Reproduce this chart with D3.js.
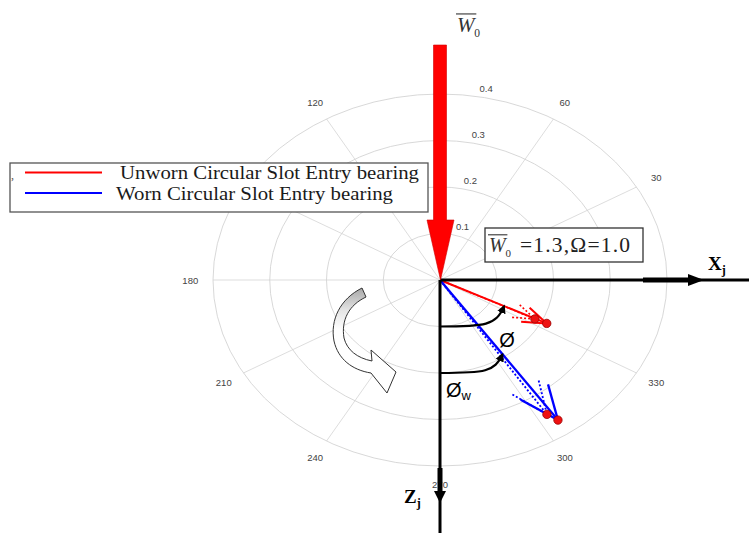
<!DOCTYPE html>
<html>
<head>
<meta charset="utf-8">
<script src="https://cdn.jsdelivr.net/npm/d3@7"></script>
<style>
  body { margin: 0; background: #fff; }
  svg { display: block; }
</style>
</head>
<body>
<svg id="chart" width="749" height="533"></svg>
<script>
// Polar grid ticks
const radialTicks = [0.1, 0.2, 0.3, 0.4];
const spokeAngles = [0, 30, 60, 90, 120, 150];
const angleLabels = [30, 60, 90, 120, 180, 210, 240, 270, 300, 330];

// Legend entries
const seriesNames = ["Unworn Circular Slot Entry bearing", "Worn Circular Slot Entry bearing"];
const seriesColors = ["#ff0000", "#0000ff"];
const legendTextWidth = [299, 277];

// Journal locus vectors: angle (deg) and non-dimensional magnitude
const unwornAngle = [333.6, 333.4];
const unwornMagnitude = [0.210, 0.187];
const wornAngle = [304.6, 303.1];
const wornMagnitude = [0.366, 0.345];
const vectorDash = [null, "2,2"];

// Operating condition
const loadValue = "1.3";
const speedValue = "1.0";

const svg = d3.select("#chart");
const cx = 440, cy = 280, rxMax = 227, ryMax = 186;
const rMax = d3.max(radialTicks);

const x = d3.scaleLinear().domain([-rMax, rMax]).range([cx - rxMax, cx + rxMax]);
const y = d3.scaleLinear().domain([-rMax, rMax]).range([cy + ryMax, cy - ryMax]);
const rad = d => d * Math.PI / 180;
const toXY = (deg, r) => [x(r * Math.cos(rad(deg))), y(r * Math.sin(rad(deg)))];

const defs = svg.append("defs");
const grad = defs.append("linearGradient").attr("id", "rotFill")
  .attr("gradientUnits", "userSpaceOnUse").attr("x1", 0).attr("y1", 288).attr("x2", 0).attr("y2", 330);
grad.append("stop").attr("offset", 0).attr("stop-color", "#a8a8a8");
grad.append("stop").attr("offset", 0.55).attr("stop-color", "#e6e6e6");
grad.append("stop").attr("offset", 1).attr("stop-color", "#ffffff");
defs.append("marker").attr("id", "arcHead").attr("viewBox", "0 0 10 10")
  .attr("refX", 8).attr("refY", 5).attr("markerWidth", 4).attr("markerHeight", 4)
  .attr("orient", "auto").attr("markerUnits", "strokeWidth")
  .append("path").attr("d", "M0,0 L10,5 L0,10 Z").attr("fill", "#000");

// ---- polar grid ----
const grid = svg.append("g");
grid.selectAll("line.spoke").data(spokeAngles).join("line")
  .attr("x1", d => toXY(d, rMax)[0]).attr("y1", d => toXY(d, rMax)[1])
  .attr("x2", d => toXY(d + 180, rMax)[0]).attr("y2", d => toXY(d + 180, rMax)[1])
  .attr("stroke", "#d9d9d9").attr("stroke-width", 0.9);
grid.selectAll("ellipse").data(radialTicks).join("ellipse")
  .attr("cx", cx).attr("cy", cy)
  .attr("rx", d => x(d) - cx).attr("ry", d => cy - y(d))
  .attr("fill", "none").attr("stroke", "#d4d4d4").attr("stroke-width", 0.9);

grid.selectAll("text.rlab").data(radialTicks).join("text")
  .attr("x", d => toXY(82, d)[0] + 8).attr("y", d => toXY(82, d)[1] - 4)
  .attr("font-family", "Liberation Sans, Arial, sans-serif").attr("font-size", 9.5)
  .attr("fill", "#444").text(d => d);
grid.selectAll("text.alab").data(angleLabels).join("text")
  .attr("x", d => toXY(d, rMax * 1.1)[0]).attr("y", d => toXY(d, rMax * 1.1)[1])
  .attr("text-anchor", "middle").attr("dominant-baseline", "central")
  .attr("font-family", "Liberation Sans, Arial, sans-serif").attr("font-size", 9.5)
  .attr("fill", "#444").text(d => d);

// ---- legend ----
const legend = svg.append("g");
legend.append("rect").attr("x", 10).attr("y", 163).attr("width", 418).attr("height", 49)
  .attr("fill", "#fff").attr("stroke", "#555").attr("stroke-width", 1.3);
legend.append("text").attr("x", 11).attr("y", 179).attr("font-size", 12)
  .attr("font-family", "Liberation Serif, serif").attr("fill", "#555").text(",");
seriesNames.forEach((name, i) => {
  const ly = 172.5 + i * 20.5;
  legend.append("line").attr("x1", 25).attr("x2", 102).attr("y1", ly).attr("y2", ly)
    .attr("stroke", seriesColors[i]).attr("stroke-width", 2);
  legend.append("text").attr("x", i === 0 ? 120 : 116).attr("y", ly + 6 + i * 0.5)
    .attr("font-family", "Liberation Serif, Times New Roman, serif").attr("font-size", 18.5)
    .attr("textLength", legendTextWidth[i]).attr("lengthAdjust", "spacingAndGlyphs")
    .attr("fill", "#1a1a1a").text(name);
});

// ---- locus vectors (compass style arrows) ----
function drawVectors(angles, mags, color, width) {
  const g = svg.append("g");
  angles.forEach((a, i) => {
    const r = mags[i];
    const u = r * Math.cos(rad(a)), v = r * Math.sin(rad(a));
    const h1 = [0.8 * u - 0.08 * v, 0.8 * v + 0.08 * u];
    const h2 = [0.8 * u + 0.08 * v, 0.8 * v - 0.08 * u];
    const tip = [x(u), y(v)];
    const segs = [[[x(0), y(0)], tip], [[x(h1[0]), y(h1[1])], tip], [[x(h2[0]), y(h2[1])], tip]];
    segs.forEach(s => g.append("line")
      .attr("x1", s[0][0]).attr("y1", s[0][1]).attr("x2", s[1][0]).attr("y2", s[1][1])
      .attr("stroke", color).attr("stroke-width", i === 0 ? width : width * 0.8)
      .attr("stroke-dasharray", vectorDash[i]));
  });
  angles.forEach((a, i) => {
    const p = toXY(a, mags[i]);
    g.append("circle").attr("cx", p[0]).attr("cy", p[1]).attr("r", 4.2)
      .attr("fill", "#ee1111").attr("stroke", "#990000").attr("stroke-width", 0.8);
  });
}
drawVectors(unwornAngle, unwornMagnitude, "#ff0000", 2);
drawVectors(wornAngle, wornMagnitude, "#0000ff", 2.3);

// ---- attitude angle arcs ----
function attitudeArc(startR, angle, mag, frac) {
  const s = toXY(270, startR);
  const e = toXY(angle, mag * frac);
  const path = `M${s[0]},${s[1]} C${s[0] + 45},${s[1]} ${e[0] - 8},${s[1] - 1} ${e[0]},${e[1]}`;
  svg.append("path").attr("d", path).attr("fill", "none").attr("stroke", "#000")
    .attr("stroke-width", 2.2).attr("marker-end", "url(#arcHead)");
}
attitudeArc(0.1, unwornAngle[0], unwornMagnitude[0], 0.6);
attitudeArc(0.2, wornAngle[0], wornMagnitude[0], 0.53);

svg.append("text").attr("x", 507).attr("y", 347).attr("text-anchor", "middle")
  .attr("font-family", "Liberation Sans, Arial, sans-serif").attr("font-size", 20).text("Ø");
const phw = svg.append("text").attr("x", 446).attr("y", 397)
  .attr("font-family", "Liberation Sans, Arial, sans-serif").attr("font-size", 20);
phw.append("tspan").text("Ø");
phw.append("tspan").attr("font-size", 13).attr("dy", 3).text("w");

// ---- rotation indicator ----
svg.append("path")
  .attr("d", "M362,288 C340,299 330,320 334,341 C338,359 352,370 371,373 L387,393 L396,372 L371,350 L372,361 C357,358 347,350 344,338 C341,320 349,305 366,297 Z")
  .attr("fill", "url(#rotFill)").attr("stroke", "#333").attr("stroke-width", 1)
  .attr("stroke-linejoin", "miter");

// ---- coordinate axes ----
const axes = svg.append("g");
axes.append("line").attr("x1", cx).attr("y1", cy).attr("x2", 749).attr("y2", cy)
  .attr("stroke", "#000").attr("stroke-width", 3);
axes.append("line").attr("x1", 643).attr("y1", cy).attr("x2", 690).attr("y2", cy)
  .attr("stroke", "#000").attr("stroke-width", 5);
axes.append("path").attr("d", `M688,${cy - 6} L704,${cy} L688,${cy + 6} Z`).attr("fill", "#000");
axes.append("line").attr("x1", cx).attr("y1", cy).attr("x2", cx).attr("y2", 533)
  .attr("stroke", "#000").attr("stroke-width", 3);
axes.append("line").attr("x1", cx).attr("y1", 468).attr("x2", cx).attr("y2", 493)
  .attr("stroke", "#000").attr("stroke-width", 5);
axes.append("path").attr("d", `M${cx - 6},491 L${cx},503 L${cx + 6},491 Z`).attr("fill", "#000");

const xl = svg.append("text").attr("x", 708).attr("y", 270)
  .attr("font-family", "Liberation Serif, serif").attr("font-weight", "bold").attr("font-size", 19);
xl.append("tspan").text("X");
xl.append("tspan").attr("font-size", 12).attr("dy", 4).text("j");
const zl = svg.append("text").attr("x", 404).attr("y", 503)
  .attr("font-family", "Liberation Serif, serif").attr("font-weight", "bold").attr("font-size", 19);
zl.append("tspan").text("Z");
zl.append("tspan").attr("font-size", 12).attr("dy", 4).text("j");

// ---- applied load arrow ----
svg.append("path")
  .attr("d", `M${cx - 6.5},45 L${cx + 6.5},45 L${cx + 6.5},220 L${cx + 14},220 L${cx + 0.5},280 L${cx - 13},220 L${cx - 6.5},220 Z`)
  .attr("fill", "#ff0000").attr("stroke", "#d00000").attr("stroke-width", 0.6);

function loadSymbol(g, x0, base, size) {
  g.append("text").attr("x", x0).attr("y", base)
    .attr("font-family", "Liberation Serif, serif").attr("font-style", "italic")
    .attr("font-size", size).attr("fill", "#333").text("W");
  g.append("line").attr("x1", x0 - 1).attr("x2", x0 + size * 0.92).attr("y1", base - size * 0.86).attr("y2", base - size * 0.86)
    .attr("stroke", "#333").attr("stroke-width", 1.1);
  g.append("text").attr("x", x0 + size * 0.82).attr("y", base + 5)
    .attr("font-family", "Liberation Serif, serif").attr("font-size", size * 0.55).attr("fill", "#333").text("0");
}
loadSymbol(svg.append("g"), 457, 32, 21);

// ---- operating condition box ----
const pbox = svg.append("g");
pbox.append("rect").attr("x", 485).attr("y", 228).attr("width", 158).attr("height", 34)
  .attr("fill", "#fff").attr("stroke", "#333").attr("stroke-width", 1.3);
loadSymbol(pbox, 489, 252, 20);
pbox.append("text").attr("x", 520).attr("y", 252)
  .attr("font-family", "Liberation Serif, serif").attr("font-size", 21.5).attr("fill", "#222")
  .attr("textLength", 110).attr("lengthAdjust", "spacing")
  .text(`=${loadValue},\u03A9=${speedValue}`);
</script>
</body>
</html>
